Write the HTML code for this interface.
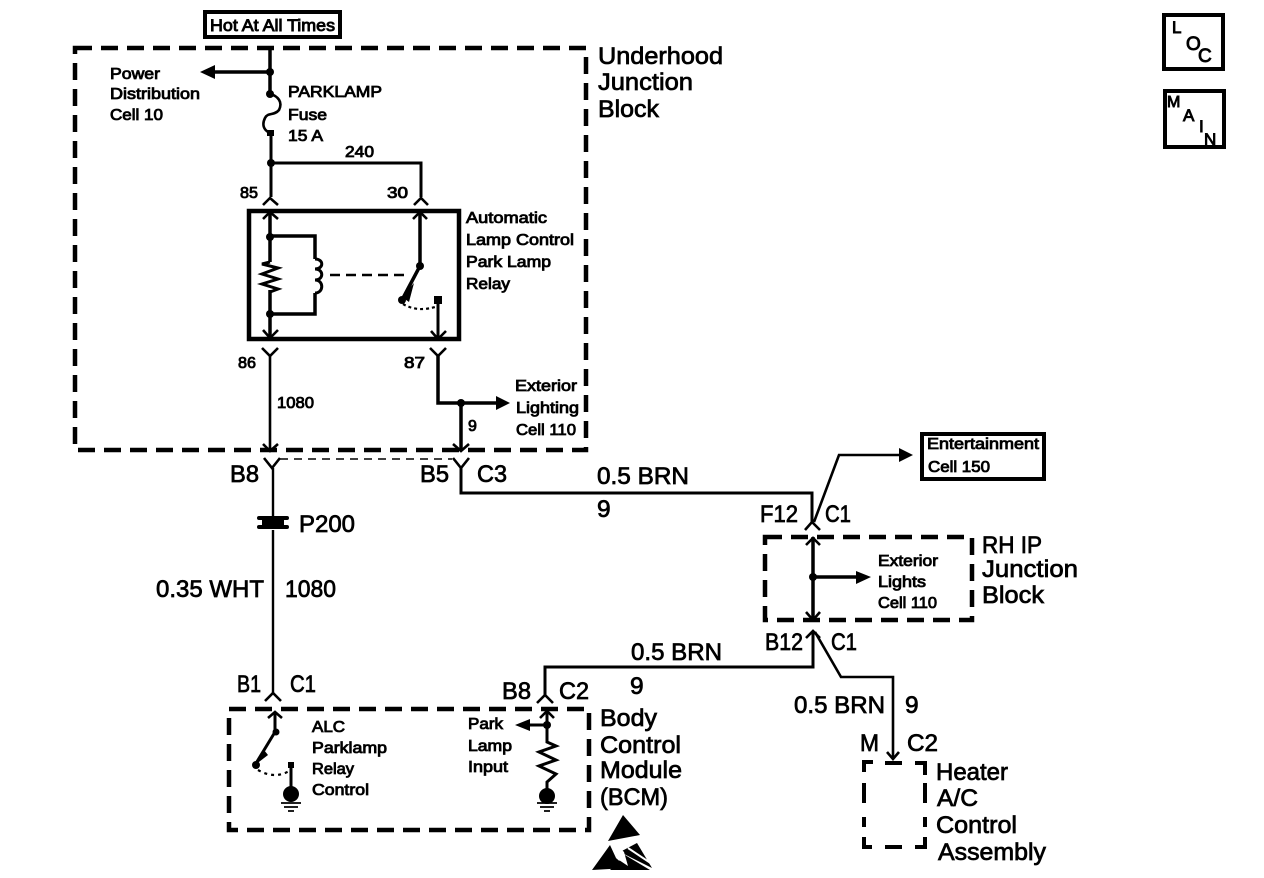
<!DOCTYPE html>
<html><head><meta charset="utf-8"><style>
html,body{margin:0;padding:0;background:#fff}
svg{display:block}
text{font-family:"Liberation Sans",sans-serif;fill:#000;stroke:#000;stroke-width:.6}
.s{font-size:16px;stroke-width:.85}
.b{font-size:24.5px;stroke-width:.75}
.l{font-size:17px;stroke-width:.9}
</style></head><body>
<svg width="1264" height="878" viewBox="0 0 1264 878" xmlns="http://www.w3.org/2000/svg">
<g fill="none" stroke="#000" stroke-linejoin="miter">
<!-- boxes -->
<rect x="205" y="12" width="135" height="25" stroke-width="4"/>
<rect x="922" y="434" width="122" height="45" stroke-width="4"/>
<rect x="249" y="211" width="210" height="128" stroke-width="4.5"/>
<rect x="1164" y="15" width="59" height="54" stroke-width="4"/>
<rect x="1165" y="91" width="59" height="56" stroke-width="4"/>
<!-- dashed -->
<g stroke-width="4.5" stroke-dasharray="17 9">
<rect x="75" y="48" width="511" height="402"/>
<rect x="765" y="537" width="207" height="83"/>
<rect x="229" y="709" width="360" height="121"/>
</g>
<path d="M864 772V762H873M885 763H902M915 763H925V775M864 783V803M925 783V803M864 817V827M925 817V827M864 837V847H872M885 847H902M915 847H925V837" stroke-width="4"/>
<g stroke-width="3">
<!-- top fuse -->
<path d="M270 47V94M270 72H212" stroke-width="3.5"/>
<path d="M270 94C278 96 283 102 279 110C274 116 268 112 265 118C262 124 263 130 270 133" stroke-width="2.6"/>
<path d="M271 133V197M270 163H421V197"/>
<path d="M263 205L270 198L278 205M414 205L421 198L428 205" stroke-width="2.6"/>
<!-- relay -->
<path d="M270 212V262M270 290V340" stroke-width="3.5"/>
<path d="M270 262L262 264L278 268L262 274L278 279L262 284L278 289L270 292" stroke-width="3"/>
<path d="M270 236H315V259M270 314H315V293" stroke-width="3.5"/>
<path d="M315 259C324 259 324 269 315 269C324 269 324 280 315 280C324 280 324 293 315 293"/>
<path d="M330 275H410" stroke-dasharray="10 6" stroke-width="2.5"/>
<path d="M420 212V266L402 300" stroke-width="3.5"/>
<path d="M438 300V338"/>
<path d="M403 304Q418 313 438 306" stroke-dasharray="3 3" stroke-width="2.2"/>
<path d="M263 219L270 212L278 219M413 219L420 212L427 219" stroke-width="2.6"/>
<path d="M263 330L270 338L278 330M431 331L438 339L446 331" stroke-width="2.6"/>
<!-- below relay -->
<path d="M262 348L270 356L278 348M430 348L438 356L446 348" stroke-width="2.6"/>
<path d="M270 356V450" stroke-width="2.6"/>
<path d="M438 356V403H498M461 403V450" stroke-width="3.5"/>
<path d="M263 444L270 451L278 444M453 444L461 451L469 444" stroke-width="2.6"/>
<!-- harness -->
<path d="M264 458L272 468L280 458M453 458L461 468L469 458" stroke-width="2.6"/>
<path d="M280 459H452" stroke-width="1.6" stroke-dasharray="8 6"/>
<path d="M273 468V516M273 530V693" stroke-width="2.4"/>
<path d="M461 468V493H812V522" stroke-width="3"/>
<path d="M805 530L812 522L820 530" stroke-width="2.6"/>
<path d="M814 522L839 455H902" stroke-width="2.6"/>
<!-- RH block -->
<path d="M813 537V620M813 577H858" stroke-width="3.5"/>
<path d="M806 545L813 538L820 545M806 612L813 620L820 612" stroke-width="2.6"/>
<path d="M806 638L813 631L820 638" stroke-width="2.6"/>
<path d="M813 631V667H545V695" stroke-width="3"/>
<path d="M815 632L841 677H893V758" stroke-width="2.6"/>
<path d="M887 752L893 759L899 752" stroke-width="2.6"/>
<path d="M537 703L545 695L553 703M265 701L273 693L281 701" stroke-width="2.6"/>
<!-- BCM -->
<path d="M275 712V732L255 765" stroke-width="3"/>
<path d="M268 718L275 712L282 718M540 718L547 711L554 718" stroke-width="2.6"/>
<path d="M258 770Q275 780 291 770" stroke-dasharray="3 4" stroke-width="2.2"/>
<path d="M291 765V792"/>
<path d="M547 712V742L556 746L539 752L556 760L539 766L556 774L547 782V795M547 725H522"/>
<path d="M281 803H301M284 807H298M288 811H294M537 803H557M540 807H554M544 811H550" stroke-width="1.8"/>
</g>
</g>
<g fill="#000">
<polygon points="200,72 215,65 215,79"/>
<circle cx="270" cy="72" r="4"/><circle cx="270" cy="94" r="4"/>
<rect x="267" y="130" width="7" height="6"/><circle cx="271" cy="163" r="4"/>
<circle cx="270" cy="237" r="4"/><circle cx="270" cy="314" r="4"/>
<circle cx="420" cy="266" r="4"/><circle cx="402" cy="300" r="4"/><rect x="434" y="296" width="8" height="8"/>
<polygon points="402,297 414,283 409,302"/>
<polygon points="510,403 496,396 496,410"/>
<circle cx="461" cy="403" r="4"/>
<rect x="257" y="516" width="32" height="4" rx="2"/><rect x="257" y="525" width="32" height="4" rx="2"/><rect x="262" y="518" width="22" height="9"/>
<polygon points="913,455 899,448 899,462"/>
<circle cx="813" cy="577" r="4"/>
<polygon points="871,577 856,571 856,584"/>
<circle cx="276" cy="732" r="3.5"/><circle cx="256" cy="765" r="4"/><rect x="288" y="762" width="6" height="6"/>
<polygon points="255,765 264,750 268,755"/>
<circle cx="291" cy="794" r="8"/>
<polygon points="515,725 530,719 530,731"/>
<circle cx="547" cy="725" r="4"/>
<circle cx="547" cy="796" r="8"/>
<polygon points="623,815 608,841 640,835"/>
<polygon points="592,870 610,845 616,858 627,868"/>
<polygon points="637,843 652,868 620,852"/>
<polygon points="610,870 625,855 650,870"/>
</g>
<path d="M616 858L620 848L624 852L628 866Z" fill="#fff"/>
<path d="M628 848L652 864" stroke="#fff" stroke-width="2"/>

<text x="210" y="31" style="font-size:17px;stroke-width:.9" textLength="125" lengthAdjust="spacingAndGlyphs">Hot At All Times</text>
<text class="s" x="110" y="79" textLength="50" lengthAdjust="spacingAndGlyphs">Power</text>
<text class="s" x="110" y="99" textLength="90" lengthAdjust="spacingAndGlyphs">Distribution</text>
<text class="s" x="110" y="120" textLength="53" lengthAdjust="spacingAndGlyphs">Cell 10</text>
<text class="s" x="288" y="97" textLength="94" lengthAdjust="spacingAndGlyphs">PARKLAMP</text>
<text class="s" x="288" y="120" textLength="39" lengthAdjust="spacingAndGlyphs">Fuse</text>
<text class="s" x="288" y="141" textLength="35" lengthAdjust="spacingAndGlyphs">15 A</text>
<text class="s" x="345" y="157" textLength="29" lengthAdjust="spacingAndGlyphs">240</text>
<text class="s" x="240" y="198" textLength="18" lengthAdjust="spacingAndGlyphs">85</text>
<text class="s" x="387" y="198" textLength="21" lengthAdjust="spacingAndGlyphs">30</text>
<text class="s" x="466" y="223" textLength="81" lengthAdjust="spacingAndGlyphs">Automatic</text>
<text class="s" x="466" y="245" textLength="108" lengthAdjust="spacingAndGlyphs">Lamp Control</text>
<text class="s" x="466" y="267" textLength="85" lengthAdjust="spacingAndGlyphs">Park Lamp</text>
<text class="s" x="466" y="289" textLength="44" lengthAdjust="spacingAndGlyphs">Relay</text>
<text class="s" x="238" y="368" textLength="18" lengthAdjust="spacingAndGlyphs">86</text>
<text class="s" x="404" y="368" textLength="21" lengthAdjust="spacingAndGlyphs">87</text>
<text class="s" x="277" y="408" textLength="37" lengthAdjust="spacingAndGlyphs">1080</text>
<text class="s" x="515" y="391" textLength="62" lengthAdjust="spacingAndGlyphs">Exterior</text>
<text class="s" x="516" y="413" textLength="63" lengthAdjust="spacingAndGlyphs">Lighting</text>
<text class="s" x="516" y="435" textLength="60" lengthAdjust="spacingAndGlyphs">Cell 110</text>
<text class="s" x="468" y="431">9</text>
<text class="s" x="927" y="449" textLength="112" lengthAdjust="spacingAndGlyphs">Entertainment</text>
<text class="s" x="928" y="472" textLength="62" lengthAdjust="spacingAndGlyphs">Cell 150</text>
<text class="s" x="878" y="566" textLength="60" lengthAdjust="spacingAndGlyphs">Exterior</text>
<text class="s" x="878" y="587" textLength="48" lengthAdjust="spacingAndGlyphs">Lights</text>
<text class="s" x="878" y="608" textLength="59" lengthAdjust="spacingAndGlyphs">Cell 110</text>
<text class="s" x="312" y="732" textLength="33" lengthAdjust="spacingAndGlyphs">ALC</text>
<text class="s" x="312" y="753" textLength="75" lengthAdjust="spacingAndGlyphs">Parklamp</text>
<text class="s" x="312" y="774" textLength="42" lengthAdjust="spacingAndGlyphs">Relay</text>
<text class="s" x="312" y="795" textLength="57" lengthAdjust="spacingAndGlyphs">Control</text>
<text class="s" x="468" y="729" textLength="35" lengthAdjust="spacingAndGlyphs">Park</text>
<text class="s" x="468" y="751" textLength="44" lengthAdjust="spacingAndGlyphs">Lamp</text>
<text class="s" x="468" y="772" textLength="40" lengthAdjust="spacingAndGlyphs">Input</text>
<text class="b" x="598" y="64" textLength="125" lengthAdjust="spacingAndGlyphs">Underhood</text>
<text class="b" x="598" y="90" textLength="95" lengthAdjust="spacingAndGlyphs">Junction</text>
<text class="b" x="598" y="117" textLength="61" lengthAdjust="spacingAndGlyphs">Block</text>
<text class="b" x="230" y="482" textLength="29" lengthAdjust="spacingAndGlyphs">B8</text>
<text class="b" x="420" y="482" textLength="29" lengthAdjust="spacingAndGlyphs">B5</text>
<text class="b" x="477" y="482" textLength="30" lengthAdjust="spacingAndGlyphs">C3</text>
<text class="b" x="299" y="532" textLength="56" lengthAdjust="spacingAndGlyphs">P200</text>
<text class="b" x="597" y="484" textLength="92" lengthAdjust="spacingAndGlyphs">0.5 BRN</text>
<text class="b" x="597" y="517">9</text>
<text class="b" x="760" y="522" textLength="38" lengthAdjust="spacingAndGlyphs">F12</text>
<text class="b" x="825" y="522" textLength="26" lengthAdjust="spacingAndGlyphs">C1</text>
<text class="b" x="156" y="597" textLength="108" lengthAdjust="spacingAndGlyphs">0.35 WHT</text>
<text class="b" x="285" y="597" textLength="51" lengthAdjust="spacingAndGlyphs">1080</text>
<text class="b" x="237" y="692" textLength="24" lengthAdjust="spacingAndGlyphs">B1</text>
<text class="b" x="290" y="692" textLength="26" lengthAdjust="spacingAndGlyphs">C1</text>
<text class="b" x="502" y="699" textLength="29" lengthAdjust="spacingAndGlyphs">B8</text>
<text class="b" x="559" y="699" textLength="30" lengthAdjust="spacingAndGlyphs">C2</text>
<text class="b" x="631" y="660" textLength="91" lengthAdjust="spacingAndGlyphs">0.5 BRN</text>
<text class="b" x="630" y="694">9</text>
<text class="b" x="765" y="650" textLength="38" lengthAdjust="spacingAndGlyphs">B12</text>
<text class="b" x="831" y="650" textLength="26" lengthAdjust="spacingAndGlyphs">C1</text>
<text class="b" x="794" y="713" textLength="91" lengthAdjust="spacingAndGlyphs">0.5 BRN</text>
<text class="b" x="905" y="713">9</text>
<text class="b" x="860" y="751" textLength="19" lengthAdjust="spacingAndGlyphs">M</text>
<text class="b" x="907" y="751" textLength="31" lengthAdjust="spacingAndGlyphs">C2</text>
<text class="b" x="936" y="780" textLength="72" lengthAdjust="spacingAndGlyphs">Heater</text>
<text class="b" x="937" y="806" textLength="41" lengthAdjust="spacingAndGlyphs">A/C</text>
<text class="b" x="936" y="833" textLength="81" lengthAdjust="spacingAndGlyphs">Control</text>
<text class="b" x="938" y="860" textLength="108" lengthAdjust="spacingAndGlyphs">Assembly</text>
<text class="b" x="600" y="726" textLength="57" lengthAdjust="spacingAndGlyphs">Body</text>
<text class="b" x="600" y="753" textLength="81" lengthAdjust="spacingAndGlyphs">Control</text>
<text class="b" x="600" y="778" textLength="82" lengthAdjust="spacingAndGlyphs">Module</text>
<text class="b" x="600" y="805" textLength="68" lengthAdjust="spacingAndGlyphs">(BCM)</text>
<text class="b" x="982" y="553" textLength="60" lengthAdjust="spacingAndGlyphs">RH IP</text>
<text class="b" x="982" y="577" textLength="96" lengthAdjust="spacingAndGlyphs">Junction</text>
<text class="b" x="982" y="603" textLength="62" lengthAdjust="spacingAndGlyphs">Block</text>
<text class="l" x="1172" y="33">L</text>
<text class="l" x="1186" y="50" style="font-size:19px">O</text>
<text class="l" x="1198" y="62" style="font-size:19px">C</text>
<text class="l" x="1167" y="107" style="font-size:16px">M</text>
<text class="l" x="1183" y="121">A</text>
<text class="l" x="1199" y="132">I</text>
<text class="l" x="1204" y="145">N</text>
</svg>
</body></html>
